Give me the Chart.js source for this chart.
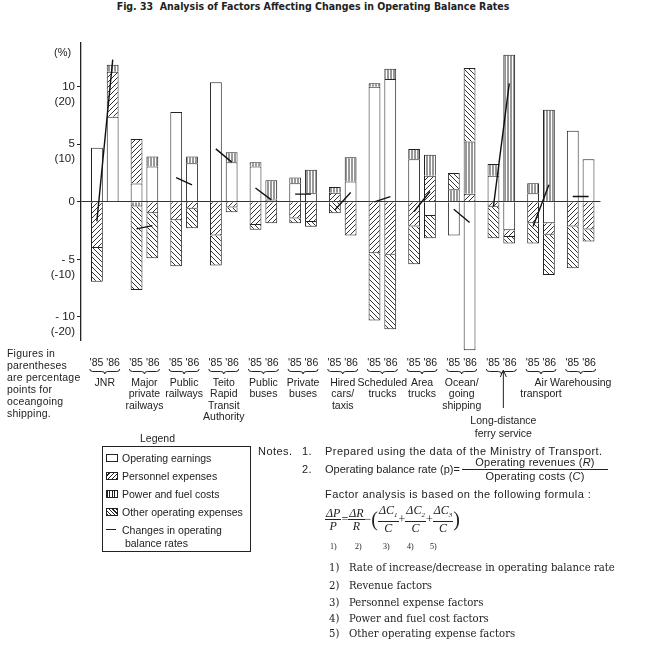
<!DOCTYPE html>
<html>
<head>
<meta charset="utf-8">
<script src="https://cdn.jsdelivr.net/npm/chart.js@4.4.1/dist/chart.umd.min.js"></script>
<style>
body { margin: 0; background: #fff; }
#wrap { position: relative; width: 650px; height: 648px; font-family: "Liberation Sans", Arial, sans-serif; color: #222; }
#c { position: absolute; left: 0; top: 0; }
.t { position: absolute; white-space: nowrap; font-size: 10.5px; line-height: 12px; }
.n { font-size: 11px; letter-spacing: 0.45px; }
.serif { font-family: "DejaVu Serif", "Liberation Serif", serif; font-size: 10.1px; }
#title { left: 0; width: 626px; top: 8px; text-align: center; font-family: "DejaVu Sans Condensed", "Liberation Sans Narrow", sans-serif; font-weight: bold; font-size: 10.5px; }
#legbox { position: absolute; left: 102px; top: 446px; width: 149px; height: 106px; border: 1px solid #222; box-sizing: border-box; }
.sw { position: absolute; width: 12px; height: 8px; border: 1px solid #222; box-sizing: border-box; }
.frac { display: inline-block; vertical-align: middle; text-align: center; }
.frac > span { display: block; }
.frac > span:first-child { border-bottom: 1px solid #222; }
#formula { position: absolute; left: 325px; top: 504px; font-family: "Liberation Serif", serif; font-style: italic; font-size: 12px; line-height: 12px; white-space: nowrap; }
#formula .frac > span { padding: 0 1px; }
#formula .op { font-style: normal; vertical-align: middle; }
#formula .par { font-style: normal; font-size: 20px; vertical-align: middle; }
</style>
</head>
<body>
<div id="wrap">
<canvas id="c" width="650" height="648"></canvas>
<div id="title">Fig. 33&nbsp;&nbsp;Analysis of Factors Affecting Changes in Operating Balance Rates</div>
<div class="t" style="left:54px;top:46px;font-size:11px">(%)</div>

<div class="t" style="left:7px;top:347px;letter-spacing:0.2px">Figures in<br>parentheses<br>are percentage<br>points for<br>oceangoing<br>shipping.</div>

<div class="t" style="left:140px;top:432px;">Legend</div>
<div id="legbox"></div>
<div class="sw" style="left:106px;top:454px;background:#fff"></div>
<div class="t" style="left:122px;top:452px;">Operating earnings</div>
<div class="sw" style="left:106px;top:472px;background:repeating-linear-gradient(-45deg,#222 0 1px,#fff 1px 3px)"></div>
<div class="t" style="left:122px;top:470px;">Personnel expenses</div>
<div class="sw" style="left:106px;top:490px;background:repeating-linear-gradient(90deg,#222 0 1px,#fff 1px 2.5px)"></div>
<div class="t" style="left:122px;top:488px;">Power and fuel costs</div>
<div class="sw" style="left:106px;top:508px;background:repeating-linear-gradient(45deg,#222 0 1px,#fff 1px 2.5px)"></div>
<div class="t" style="left:122px;top:506px;">Other operating expenses</div>
<div style="position:absolute;left:106px;top:529px;width:10px;height:0;border-top:1.3px solid #222"></div>
<div class="t" style="left:122px;top:524px;line-height:13px">Changes in operating<br>&nbsp;balance rates</div>

<div class="t n" style="left:258px;top:445px;">Notes.</div>
<div class="t n" style="left:302px;top:445px;">1.</div>
<div class="t n" style="left:325px;top:445px;">Prepared using the data of the Ministry of Transport.</div>
<div class="t n" style="left:302px;top:463px;">2.</div>
<div class="t n" style="left:325px;top:463px;letter-spacing:0">Operating balance rate (p)=</div>
<div class="t n frac" style="left:462px;top:456px;width:146px;line-height:13px;letter-spacing:0.2px"><span>Operating revenues (<i>R</i>)</span><span>Operating costs (<i>C</i>)</span></div>
<div class="t n" style="left:325px;top:488px;">Factor analysis is based on the following formula :</div>
<div id="formula">
<span class="frac"><span>&Delta;<i>P</i></span><span>P</span></span><span class="op">=</span><span class="frac"><span>&Delta;<i>R</i></span><span>R</span></span><span class="op">&minus;</span><span class="par">(</span><span class="frac"><span>&Delta;C<sub style="font-size:7px">1</sub></span><span>C</span></span><span class="op">+</span><span class="frac"><span>&Delta;C<sub style="font-size:7px">2</sub></span><span>C</span></span><span class="op">+</span><span class="frac"><span>&Delta;C<sub style="font-size:7px">3</sub></span><span>C</span></span><span class="par">)</span>
</div>
<div class="t" style="left:330px;top:541px;font-size:8px;font-family:'Liberation Serif',serif">1)</div>
<div class="t" style="left:355px;top:541px;font-size:8px;font-family:'Liberation Serif',serif">2)</div>
<div class="t" style="left:383px;top:541px;font-size:8px;font-family:'Liberation Serif',serif">3)</div>
<div class="t" style="left:407px;top:541px;font-size:8px;font-family:'Liberation Serif',serif">4)</div>
<div class="t" style="left:430px;top:541px;font-size:8px;font-family:'Liberation Serif',serif">5)</div>

<div class="t serif" style="left:329px;top:562px;">1)</div>
<div class="t serif" style="left:349px;top:562px;">Rate of increase/decrease in operating balance rate</div>
<div class="t serif" style="left:329px;top:580px;">2)</div>
<div class="t serif" style="left:349px;top:580px;">Revenue factors</div>
<div class="t serif" style="left:329px;top:597px;">3)</div>
<div class="t serif" style="left:349px;top:597px;">Personnel expense factors</div>
<div class="t serif" style="left:329px;top:613px;">4)</div>
<div class="t serif" style="left:349px;top:613px;">Power and fuel cost factors</div>
<div class="t serif" style="left:329px;top:628px;">5)</div>
<div class="t serif" style="left:349px;top:628px;">Other operating expense factors</div>
</div>

<script>
// categories (13 sectors), each with a 1985 and 1986 bar
const categories = [['JNR'], ['Major', 'private', 'railways'], ['Public', 'railways'], ['Teito', 'Rapid', 'Transit', 'Authority'],
    ['Public', 'buses'], ['Private', 'buses'], ['Hired', 'cars/', 'taxis'], ['Scheduled', 'trucks'], ['Area', 'trucks'],
    ['Ocean/', 'going', 'shipping'], [''], ['Air', 'transport'], ['Warehousing']];
const years = ["'85", "'86"];
const ferryLabel = ['Long-distance', 'ferry service'];

// factor contributions (%)
const earnings85  = [4.7, 1.6, 7.8, 10.4, 3.07, 1.62, 0, 10.0, 3.7, -2.93, 2.26, 0.75, 6.17];
const personnel85 = [-4.0, 3.85, -1.6, -2.93, -2.0, -1.45, 0.8, -4.46, -2.15, 0, -0.43, -1.86, -2.15];
const power85     = [0, -0.4, 0, 0, 0.38, 0.5, 0.5, 0.3, 0.9, 1.1, 1.02, 0.87, 0];
const other85     = [-2.93, -7.25, -4.0, -2.6, -0.43, -0.41, -1.0, -5.84, -3.27, 1.4, -2.73, -1.76, -3.62];

const earnings86  = [7.4, 3.07, 3.36, 3.45, 0.2, 0.75, 1.77, 10.67, -1.22, -12.9, -2.46, -1.86, 3.71];
const personnel86 = [3.9, -1.0, -0.6, -0.5, -1.86, -1.74, -2.93, -4.6, 2.26, 0.7, -0.6, -1.0, -2.4];
const power86     = [0.6, 0.87, 0.58, 0.85, 1.68, 2.03, 2.11, 0.9, 1.84, 4.55, 12.78, 8.0, 0];
const other86     = [0, -3.9, -1.69, -0.4, 0, -0.43, 0, -6.47, -1.94, 6.37, -0.56, -3.5, -1.05];

// changes in operating balance rates
const balance85 = [-1.7, -2.35, 2.1, 4.6, 1.2, 0.67, -0.7, 0, -0.84, -0.64, -0.41, -2.14, 0.46];
const balance86 = [12.35, -2.06, 1.48, 3.45, 0.17, 0.67, 0.81, 0.46, 0.9, -1.8, 10.3, 1.48, 0.46];

const yTicks = [10, 5, 0, -5, -10];
const yTickLabels = [['', '10', '(20)'], ['', '5', '(10)'], '0', ['', '- 5', '(-10)'], ['', '- 10', '(-20)']];

const canvas = document.getElementById('c');
const ctx0 = canvas.getContext('2d');

function hatch(kind) {
    const s = kind === '|' ? 3 : 5;
    const t = document.createElement('canvas');
    t.width = s; t.height = s;
    const g = t.getContext('2d');
    g.fillStyle = '#fff';
    g.fillRect(0, 0, s, s);
    g.strokeStyle = '#333';
    g.lineWidth = 1;
    g.beginPath();
    if (kind === '/') {
        g.moveTo(-1, s + 1); g.lineTo(s + 1, -1);
        g.moveTo(-1, 1); g.lineTo(1, -1);
        g.moveTo(s - 1, s + 1); g.lineTo(s + 1, s - 1);
    } else if (kind === '\\') {
        g.moveTo(-1, -1); g.lineTo(s + 1, s + 1);
        g.moveTo(s - 1, -1); g.lineTo(s + 1, 1);
        g.moveTo(-1, s - 1); g.lineTo(1, s + 1);
    } else {
        g.moveTo(1, 0); g.lineTo(1, s);
    }
    g.stroke();
    return ctx0.createPattern(t, 'repeat');
}

const factors = [
    { label: 'Operating earnings', d: [earnings85, earnings86], fill: '#fff' },
    { label: 'Personnel expenses', d: [personnel85, personnel86], fill: hatch('/') },
    { label: 'Power and fuel costs', d: [power85, power86], fill: hatch('|') },
    { label: 'Other operating expenses', d: [other85, other86], fill: hatch('\\') }
];

const datasets = [];
years.forEach((yr, k) => {
    factors.forEach(f => {
        datasets.push({
            type: 'bar',
            label: f.label + ' ' + yr,
            stack: yr,
            // zero entries are left out so no empty bar is drawn
            data: f.d[k].map((v, i) => ({ x: i, y: v })).filter(p => p.y !== 0),
            backgroundColor: f.fill,
            borderColor: '#222',
            borderWidth: 1,
            borderSkipped: 'start',
            inflateAmount: 0,
            clip: false,
            order: 1
        });
    });
});

// line from the '85 bar to the '86 bar of each sector
const lineData = [];
balance85.forEach((v, i) => {
    lineData.push({ x: i - 0.2, y: v }, { x: i + 0.2, y: balance86[i] }, { x: i + 0.5, y: null });
});
datasets.push({
    type: 'line',
    label: 'Changes in operating balance rates',
    data: lineData,
    borderColor: '#111',
    borderWidth: 1.4,
    pointRadius: 0,
    spanGaps: false,
    clip: false,
    stack: 'line',
    order: 0
});

const xMarks = {
    id: 'xMarks',
    afterDraw(chart) {
        const ctx = chart.ctx, x = chart.scales.x;
        const top = x.top;
        ctx.save();
        ctx.fillStyle = '#222';
        ctx.strokeStyle = '#222';
        ctx.lineWidth = 1;
        ctx.font = '10.5px "Liberation Sans", Arial, sans-serif';
        ctx.textAlign = 'center';
        ctx.textBaseline = 'middle';
        categories.forEach((c, i) => {
            ctx.fillText(years[0], x.getPixelForValue(i - 0.21), top + 23);
            ctx.fillText(years[1], x.getPixelForValue(i + 0.21), top + 23);
            const cx = x.getPixelForValue(i), w = 30, y0 = top + 29;
            ctx.beginPath();
            ctx.moveTo(cx - w / 2, y0);
            ctx.quadraticCurveTo(cx - w / 2, y0 + 2.5, cx - w / 2 + 3, y0 + 2.5);
            ctx.lineTo(cx - 3, y0 + 2.5);
            ctx.quadraticCurveTo(cx, y0 + 2.5, cx, y0 + 5);
            ctx.quadraticCurveTo(cx, y0 + 2.5, cx + 3, y0 + 2.5);
            ctx.lineTo(cx + w / 2 - 3, y0 + 2.5);
            ctx.quadraticCurveTo(cx + w / 2, y0 + 2.5, cx + w / 2, y0);
            ctx.stroke();
        });
        // ferry service: arrow and label
        const fx = x.getPixelForValue(10) + 2;
        ctx.beginPath();
        ctx.moveTo(fx, top + 68);
        ctx.lineTo(fx, top + 31);
        ctx.stroke();
        ctx.beginPath();
        ctx.moveTo(fx - 3, top + 37);
        ctx.lineTo(fx, top + 30);
        ctx.lineTo(fx + 3, top + 37);
        ctx.stroke();
        ctx.fillText(ferryLabel[0], fx, top + 81);
        ctx.fillText(ferryLabel[1], fx, top + 94);
        ctx.restore();
    }
};

new Chart(canvas, {
    data: { datasets: datasets },
    options: {
        responsive: false,
        animation: false,
        layout: { padding: { top: 43, right: 42, left: 0, bottom: 208 } },
        plugins: { legend: { display: false }, tooltip: { enabled: false } },
        datasets: { bar: { categoryPercentage: 0.795, barPercentage: 0.75 } },
        scales: {
            x: {
                type: 'linear',
                offset: false,
                min: -0.6,
                max: 12.5,
                stacked: true,
                grid: { display: false, drawTicks: false, offset: false },
                border: { display: false },
                afterBuildTicks: (s) => { s.ticks = categories.map((c, i) => ({ value: i })); },
                afterFit: (s) => { s.height = 100; },
                ticks: {
                    autoSkip: false,
                    maxRotation: 0,
                    padding: 37,
                    color: '#222',
                    font: { family: '"Liberation Sans", Arial, sans-serif', size: 10.5, lineHeight: 1.1 },
                    callback: (v) => categories[v]
                }
            },
            y: {
                min: -12,
                max: 13.8,
                stacked: true,
                afterBuildTicks: (s) => { s.ticks = yTicks.map(v => ({ value: v })); },
                afterFit: (s) => { s.width = 81; },
                border: { display: true, color: '#222', width: 1.3 },
                grid: {
                    drawOnChartArea: true,
                    color: (c) => (c.tick && c.tick.value === 0) ? '#333' : 'rgba(0,0,0,0)',
                    tickColor: '#222',
                    tickLength: 4,
                    lineWidth: 1
                },
                ticks: {
                    padding: 2,
                    color: '#222',
                    font: { family: '"Liberation Sans", Arial, sans-serif', size: 11.5, lineHeight: 1.3 },
                    callback: (v) => yTickLabels[yTicks.indexOf(v)]
                }
            }
        }
    },
    plugins: [xMarks]
});
</script>
</body>
</html>
